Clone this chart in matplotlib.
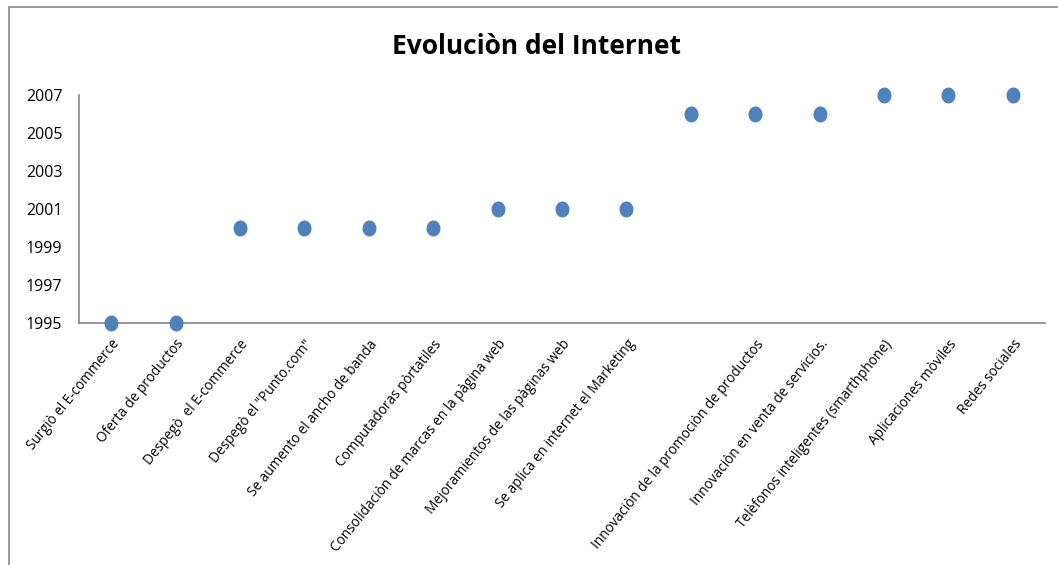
import matplotlib.pyplot as plt
import numpy as np
from matplotlib.patches import Rectangle
from matplotlib.path import Path

# Datos del grafico
eventos = [
    'Surgiò el E-commerce',
    'Oferta de productos',
    'Despegò  el E-commerce',
    'Despegò el "Punto.com"',
    'Se aumento el ancho de banda',
    'Computadoras pòrtatiles',
    'Consolidaciòn de marcas en la pàgina web',
    'Mejoramientos de las pàginas web',
    'Se aplica en internet el Marketing',
    '',
    'Innovaciòn de la promociòn de productos',
    'Innovaciòn en venta de servicios.',
    'Telèfonos inteligentes (smarthphone)',
    'Aplicaciones mòviles',
    'Redes sociales',
]
anios = [1995, 1995, 2000, 2000, 2000, 2000, 2001, 2001, 2001,
         2006, 2006, 2006, 2007, 2007, 2007]
y_ticks = [1995, 1997, 1999, 2001, 2003, 2005, 2007]

plt.rcParams['font.family'] = ['Open Sans', 'DejaVu Sans']

# marcador ovalado (la imagen original esta algo estirada en vertical)
t = np.linspace(0, 2 * np.pi, 60)
ovalo = Path(np.column_stack([0.43 * np.cos(t), 0.5 * np.sin(t)]), closed=True)

fig = plt.figure(figsize=(10.58, 5.65), dpi=100)
fig.patches.append(Rectangle((9 / 1058, -0.01), 1.1, 1 - 7 / 565 + 0.01,
                             transform=fig.transFigure, fill=False,
                             edgecolor='#868686', linewidth=1.2))

ax = fig.add_axes([79 / 1058, 1 - 323 / 565, (1045 - 79) / 1058, (323 - 95) / 565])
x = list(range(len(anios)))
ax.plot(x, anios, linestyle='none', marker=ovalo, color='#4F81BD',
        markersize=10.5, clip_on=False, zorder=3)

ax.set_xlim(-0.5, len(anios) - 0.5)
ax.set_ylim(1995, 2007)
ax.set_yticks(y_ticks)
ax.set_yticklabels([str(v) for v in y_ticks], fontsize=11.5)
ax.set_xticks(x)
ax.set_xticklabels(eventos, rotation=51, ha='right', rotation_mode='anchor',
                   fontsize=9.8)
ax.tick_params(axis='x', length=0, pad=10)
ax.tick_params(axis='y', length=0, pad=12)

for s in ['top', 'right']:
    ax.spines[s].set_visible(False)
for s in ['left', 'bottom']:
    ax.spines[s].set_color('#868686')
    ax.spines[s].set_linewidth(1.2)

fig.text(537 / 1058, 1 - 47 / 565, 'Evoluciòn del Internet', ha='center', va='center',
         fontsize=19, fontweight='bold')

plt.savefig('out.png', dpi=100)
